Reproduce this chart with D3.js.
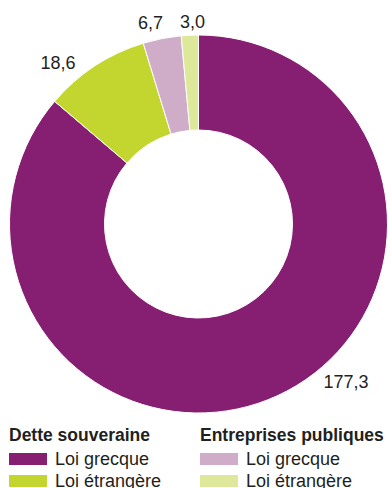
<!DOCTYPE html>
<html>
<head>
<meta charset="utf-8">
<script src="https://cdn.jsdelivr.net/npm/d3@7"></script>
<style>
	body { margin: 0; background: #fff; }
	svg { display: block; font-family: "Liberation Sans", Arial, Helvetica, sans-serif; }
</style>
</head>
<body>
<div id="chart"></div>
<script>
// data
let categories = ["Dette souveraine – Loi grecque", "Dette souveraine – Loi étrangère",
	"Entreprises publiques – Loi grecque", "Entreprises publiques – Loi étrangère"];
let values = [177.3, 18.6, 6.7, 3.0];
let valueLabels = ["177,3", "18,6", "6,7", "3,0"];
let colors = ["#861f71", "#c2d62f", "#cfadc8", "#dde89a"];
let legendGroups = ["Dette souveraine", "Entreprises publiques"];
let legendItems = ["Loi grecque", "Loi étrangère"];

let width = 388, height = 488;
let cx = 198.5, cy = 224;
let outerR = 189, innerR = 94;

let svg = d3.select("#chart").append("svg")
	.attr("width", width)
	.attr("height", height);

let g = svg.append("g")
	.attr("transform", "translate(" + cx + "," + cy + ")");

let pie = d3.pie().sort(null).value(d => d);
let arcs = pie(values);

let arc = d3.arc()
	.innerRadius(innerR)
	.outerRadius(outerR);

g.selectAll(".slice")
	.data(arcs)
	.enter()
	.append("path")
	.attr("class", "slice")
	.attr("d", arc)
	.attr("fill", (d, i) => colors[i])
	.attr("stroke", "#fff")
	.attr("stroke-width", 1);

// label placement: angle shift (deg) and radius, tuned by eye
let labelShift = [-18.3, -7.8, -2.3, 0.9];
let labelRadius = [216, 214, 207, 202];

g.selectAll(".val-label")
	.data(arcs)
	.enter()
	.append("text")
	.attr("class", "val-label")
	.attr("x", (d, i) => {
		let a = (d.startAngle + d.endAngle) / 2 + labelShift[i] * Math.PI / 180;
		return Math.sin(a) * labelRadius[i];
	})
	.attr("y", (d, i) => {
		let a = (d.startAngle + d.endAngle) / 2 + labelShift[i] * Math.PI / 180;
		return -Math.cos(a) * labelRadius[i];
	})
	.attr("text-anchor", "middle")
	.attr("dominant-baseline", "central")
	.attr("font-size", 18)
	.attr("fill", "#231f20")
	.text((d, i) => valueLabels[i]);

// legend
let legend = svg.append("g").attr("class", "legend");
let colX = [9, 200];

legendGroups.forEach((grp, gi) => {
	legend.append("text")
		.attr("x", colX[gi])
		.attr("y", 441)
		.attr("font-size", 17.5)
		.attr("font-weight", "bold")
		.attr("fill", "#231f20")
		.text(grp);

	legendItems.forEach((item, ii) => {
		let idx = gi * 2 + ii;
		legend.append("rect")
			.attr("x", colX[gi])
			.attr("y", 453 + ii * 22)
			.attr("width", 38)
			.attr("height", 12)
			.attr("fill", colors[idx]);
		legend.append("text")
			.attr("x", colX[gi] + 46)
			.attr("y", 464.5 + ii * 22)
			.attr("font-size", 18)
			.attr("fill", "#231f20")
			.text(item);
	});
});
</script>
</body>
</html>
